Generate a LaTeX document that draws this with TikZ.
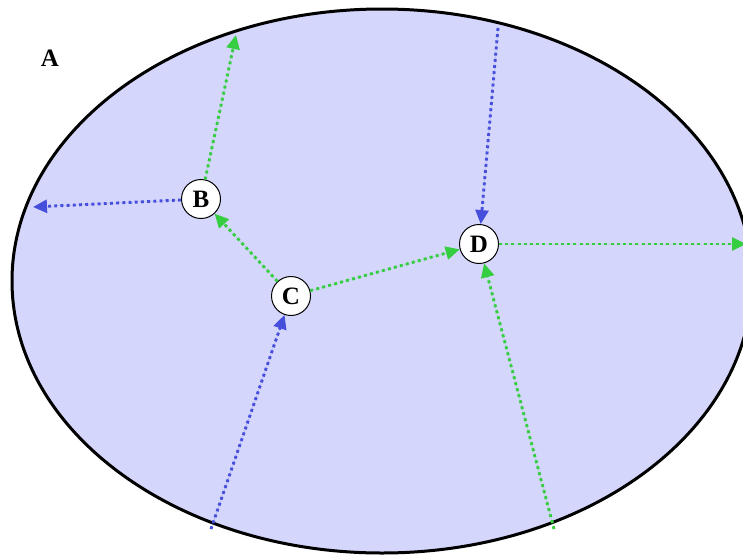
\documentclass[tikz,border=0pt]{standalone}
\usepackage{fontspec}
\setmainfont{Liberation Serif}
\usetikzlibrary{arrows.meta}
\definecolor{fillblue}{RGB}{213,214,252}
\definecolor{lineblue}{RGB}{70,78,220}
\definecolor{linegreen}{RGB}{52,206,64}
\tikzset{
  vertex/.style={circle, draw=black, line width=1pt, fill=white, minimum size=39pt, inner sep=0pt, font=\fontsize{25}{27}\selectfont\bfseries},
  flow/.style={line width=2.9pt, dash pattern=on 2.9pt off 3.3pt, -{Triangle[length=14pt,width=13pt]}},
  bflow/.style={flow, draw=lineblue, fill=lineblue},
  gflow/.style={flow, draw=linegreen, fill=linegreen},
}
\begin{document}
\begin{tikzpicture}[x=1pt,y=-1pt]
\useasboundingbox (0,0) rectangle (743,554);
\begin{scope}
\clip (0,0) rectangle (743,554);
\draw[fill=fillblue, line width=3pt] (382,281) ellipse [x radius=370, y radius=272];
\end{scope}
\node[font=\fontsize{25}{27}\selectfont\bfseries] (A) at (50,58) {A};
\node[vertex] (B) at (201,199) {B};
\node[vertex] (C) at (291,296) {C};
\node[vertex] (D) at (479,244) {D};
\coordinate (b1) at (236,35);
\coordinate (b2) at (33,207);
\coordinate (c0) at (211,529);
\coordinate (d0) at (498,28);
\coordinate (d1) at (746,244);
\coordinate (d2) at (554,529);
\begin{scope}
\clip (0,0) rectangle (743,554);
\draw[gflow] (B) -- (b1);
\draw[bflow] (B) -- (b2);
\draw[gflow] (C) -- (B);
\draw[gflow] (C) -- (D);
\draw[bflow] (c0) -- (C);
\draw[bflow] (d0) -- (D);
\draw[gflow] (D) -- (d1);
\draw[gflow] (d2) -- (D);
\end{scope}
\end{tikzpicture}
\end{document}
